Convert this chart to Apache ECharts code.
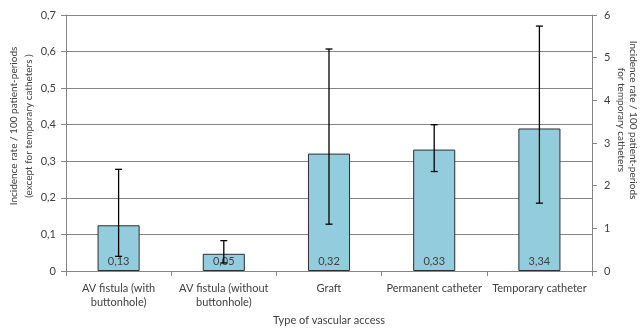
<!DOCTYPE html>
<html><head><meta charset="utf-8">
<script src="https://cdn.jsdelivr.net/npm/echarts@6/dist/echarts.min.js"></script>
<style>html,body{margin:0;padding:0;background:#fff}#c{width:643px;height:331px}</style>
</head><body><div id="c"></div>
<script>
const categories = ['AV fistula (with\nbuttonhole)', 'AV fistula (without\nbuttonhole)', 'Graft', 'Permanent catheter', 'Temporary catheter'];
const leftValues = [0.125, 0.047, 0.321, 0.332, null];
const rightValues = [null, null, null, null, 3.34];
const barLabels = ['0,13', '0,05', '0,32', '0,33', '3,34'];
const leftErrLow = [0.04, 0.022, 0.128, 0.272, null];
const leftErrHigh = [0.278, 0.083, 0.607, 0.400, null];
const rightErrLow = [null, null, null, null, 1.59];
const rightErrHigh = [null, null, null, null, 5.74];
const leftAxisName = 'Incidence rate / 100 patient-periods\n(except for temporary catheters )';
const rightAxisName = 'Incidence rate / 100 patient-periods\nfor temporary catheters';
const xAxisName = 'Type of vascular access';

const FONT = 'Lato';
const TXT = '#404040';
const GRID = '#868686';

function errData(lo, hi) {
  const out = [];
  lo.forEach((v, i) => { if (v != null && hi[i] != null) out.push([i, v, hi[i]]); });
  return out;
}
function errRender(params, api) {
  const x = api.value(0);
  const pLo = api.coord([x, api.value(1)]);
  const pHi = api.coord([x, api.value(2)]);
  const w = 7;
  const style = { stroke: '#000', lineWidth: 1.3 };
  return { type: 'group', children: [
    { type: 'line', shape: { x1: pHi[0], y1: pHi[1], x2: pLo[0], y2: pLo[1] }, style },
    { type: 'line', shape: { x1: pHi[0] - w / 2, y1: pHi[1], x2: pHi[0] + w / 2, y2: pHi[1] }, style },
    { type: 'line', shape: { x1: pLo[0] - w / 2, y1: pLo[1], x2: pLo[0] + w / 2, y2: pLo[1] }, style }
  ]};
}
const fmt = v => String(+(+v).toFixed(1)).replace('.', ',');
const barLabel = {
  show: true, position: 'insideBottom', distance: 4, color: TXT,
  fontFamily: FONT, fontSize: 11,
  formatter: p => barLabels[p.dataIndex]
};
const barStyle = { color: '#93CDDD', borderColor: '#2e2e2e', borderWidth: 1 };

const chart = echarts.init(document.getElementById('c'), null, { renderer: 'canvas' });
chart.setOption({
  animation: false,
  textStyle: { fontFamily: FONT },
  grid: { left: 66, right: 51, top: 15, bottom: 59 },
  xAxis: {
    type: 'category', data: categories,
    name: xAxisName, nameLocation: 'middle', nameGap: 44,
    nameTextStyle: { color: TXT, fontFamily: FONT, fontSize: 11 },
    axisLine: { lineStyle: { color: GRID, width: 1 } },
    axisTick: { show: true, length: 5, lineStyle: { color: GRID } },
    axisLabel: { interval: 0, margin: 10, color: TXT, fontFamily: FONT, fontSize: 11, lineHeight: 14 }
  },
  yAxis: [{
    type: 'value', min: 0, max: 0.7, interval: 0.1,
    axisLine: { show: true, lineStyle: { color: GRID } },
    axisTick: { show: true, length: 5, lineStyle: { color: GRID } },
    splitLine: { show: true, lineStyle: { color: GRID, width: 1 } },
    axisLabel: { margin: 10, color: TXT, fontFamily: FONT, fontSize: 11, formatter: fmt }
  }, {
    type: 'value', min: 0, max: 6, interval: 1, position: 'right',
    axisLine: { show: true, lineStyle: { color: GRID } },
    axisTick: { show: true, length: 5, lineStyle: { color: GRID } },
    splitLine: { show: false },
    axisLabel: { margin: 12, color: TXT, fontFamily: FONT, fontSize: 11 }
  }],
  graphic: [{
    type: 'text', x: 21, y: 126, rotation: Math.PI / 2,
    style: { text: leftAxisName, fill: TXT, font: '10px ' + FONT, align: 'center', verticalAlign: 'middle', lineHeight: 15 }
  }, {
    type: 'text', x: 627, y: 120, rotation: -Math.PI / 2,
    style: { text: rightAxisName, fill: TXT, font: '10px ' + FONT, align: 'center', verticalAlign: 'middle', lineHeight: 12 }
  }],
  series: [{
    type: 'bar', yAxisIndex: 0, data: leftValues, barWidth: '40%', barGap: '-100%',
    itemStyle: barStyle, label: barLabel, z: 2
  }, {
    type: 'bar', yAxisIndex: 1, data: rightValues, barWidth: '40%', barGap: '-100%',
    itemStyle: barStyle, label: barLabel, z: 2
  }, {
    type: 'custom', yAxisIndex: 0, data: errData(leftErrLow, leftErrHigh), renderItem: errRender, z: 10
  }, {
    type: 'custom', yAxisIndex: 1, data: errData(rightErrLow, rightErrHigh), renderItem: errRender, z: 10
  }]
});
</script></body></html>
